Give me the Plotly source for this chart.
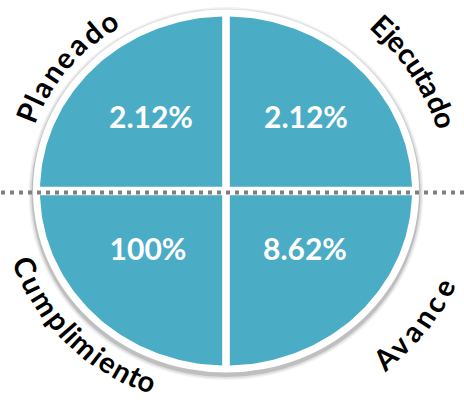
import numpy as np
import plotly.graph_objects as go

# ---- data ----
labels = ["Planeado", "Ejecutado", "Cumplimiento", "Avance"]
values = [2.12, 2.12, 100, 8.62]

# ---- layout constants (pixels) ----
W, H = 464, 400
CX, CY = 226, 191
RX, RY = 186, 174.5
GX, GY = 3.8, 4.2
TEAL = "#4BACC6"
FONT = "Century Gothic, Lato, sans-serif"

# quadrant signs (math coords: y up)
quad = {"Planeado": (-1, 1), "Ejecutado": (1, 1), "Cumplimiento": (-1, -1), "Avance": (1, -1)}
val_off = {"Planeado": (-75, -71), "Ejecutado": (80, -71), "Cumplimiento": (-78, 61), "Avance": (79, 61)}
# label arcs: (phi_first_char, phi_last_char, r_first, r_last, side)
arcs = {
    "Planeado": (158.4, 125.0, 214, 207, "top"),
    "Ejecutado": (46.5, 18.0, 228, 231, "top"),
    "Cumplimiento": (200.7, 247.6, 214, 205, "bottom"),
    "Avance": (313.6, 336.0, 230, 237, "bottom"),
}
cw = {"P": .62, "l": .26, "a": .64, "n": .60, "e": .62, "d": .66, "o": .64, "E": .56, "j": .26,
      "c": .60, "u": .60, "t": .36, "C": .78, "m": .92, "p": .66, "i": .26, "A": .74, "v": .58}

fig = go.Figure()

# shadow + white ring
shapes = []
for grow, op in [(5, 0.05), (3.5, 0.08), (2, 0.14)]:
    shapes.append(dict(type="circle", xref="x", yref="y", layer="below",
                       x0=CX - RX - 7 - grow + 0.5, x1=CX + RX + 7 + grow - 0.5,
                       y0=CY - RY - 7 - grow + 2.5, y1=CY + RY + 7 + grow + 2.5,
                       fillcolor=f"rgba(0,0,0,{op})", line=dict(width=0)))
shapes.append(dict(type="circle", xref="x", yref="y", layer="below",
                   x0=CX - RX - 7, x1=CX + RX + 7, y0=CY - RY - 7, y1=CY + RY + 7,
                   fillcolor="white", line=dict(width=0)))

# quadrants
for lab in labels:
    sx, sy = quad[lab]
    pa = np.arcsin(GY / RY)
    pb = np.arccos(GX / RX)
    ph = np.linspace(pa, pb, 80)
    ex = RX * np.cos(ph)
    ey = RY * np.sin(ph)
    xs = np.concatenate([[GX], ex, [GX]])
    ys = np.concatenate([[GY], ey, [GY]])
    fig.add_trace(go.Scatter(x=CX + sx * xs, y=CY - sy * ys, mode="lines", fill="toself",
                             fillcolor=TEAL, line=dict(width=0, color=TEAL),
                             hoverinfo="skip", showlegend=False))

# values
vx = [CX + val_off[l][0] for l in labels]
vy = [CY + val_off[l][1] for l in labels]
vt = [f"{v:g}%" for v in values]
fig.add_trace(go.Scatter(x=vx, y=vy, mode="text", text=vt, textposition="middle center",
                         textfont=dict(family=FONT, size=30, color="white", weight="bold"),
                         hoverinfo="skip", showlegend=False))

# dotted line
shapes.append(dict(type="line", xref="x", yref="y", layer="above", x0=1, x1=W, y0=CY + 1.5, y1=CY + 1.5,
                   line=dict(color="#7F7F7F", width=4, dash="4px,5px")))

# curved labels, character by character
annotations = []
for lab in labels:
    p1, p2, r1, r2, side = arcs[lab]
    w = np.array([cw.get(ch, .6) for ch in lab])
    s = np.cumsum(w) - w / 2
    t = (s - s[0]) / (s[-1] - s[0])
    for ch, ti in zip(lab, t):
        phi = p1 + (p2 - p1) * ti
        r = r1 + (r2 - r1) * ti
        x = CX + r * np.cos(np.radians(phi))
        y = CY - r * np.sin(np.radians(phi))
        ang = 90 - phi if side == "top" else 270 - phi
        ang = (ang + 180) % 360 - 180
        annotations.append(dict(x=x, y=y, xref="x", yref="y", text=ch, showarrow=False,
                                textangle=ang, xanchor="center", yanchor="middle",
                                font=dict(family=FONT, size=29, color="black", weight="bold")))

fig.update_layout(width=W, height=H, margin=dict(l=0, r=0, t=0, b=0),
                  paper_bgcolor="white", plot_bgcolor="white",
                  xaxis=dict(range=[0, W], visible=False, fixedrange=True),
                  yaxis=dict(range=[H, 0], visible=False, fixedrange=True),
                  shapes=shapes, annotations=annotations, showlegend=False)
fig.write_html("out.html")
